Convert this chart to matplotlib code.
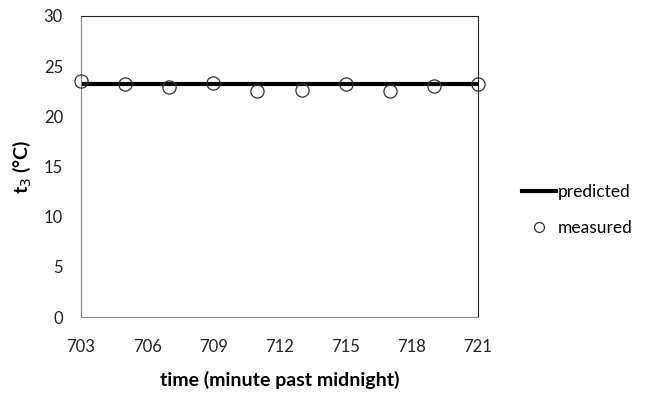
import matplotlib
matplotlib.use("Agg")
import matplotlib.pyplot as plt

plt.rcParams['font.family'] = ['Lato', 'DejaVu Sans']

time = [703, 705, 707, 709, 711, 713, 715, 717, 719, 721]
measured = [23.55, 23.2, 22.95, 23.3, 22.55, 22.65, 23.2, 22.55, 23.05, 23.2]
predicted = [23.2] * len(time)
xticks = [703, 706, 709, 712, 715, 718, 721]
yticks = [0, 5, 10, 15, 20, 25, 30]

fig = plt.figure(figsize=(6.47, 4.01), dpi=100)
ax = fig.add_axes([81/647, 1-317/401, (478-81)/647, (317-16)/401])

ax.plot(time, predicted, color='black', lw=3, label='predicted', zorder=2)
ax.plot(time, measured, ls='none', marker='o', ms=9.5, mfc='none', mec='#333333',
        mew=0.9, label='measured', zorder=3, clip_on=False)

ax.set_xlim(703, 721)
ax.set_ylim(0, 30)
ax.set_xticks(xticks)
ax.set_yticks(yticks)
ax.tick_params(axis='both', length=0, labelsize=12, colors='#222222')
ax.tick_params(axis='x', pad=16)
ax.tick_params(axis='y', pad=13)

for s in ['left', 'bottom']:
    ax.spines[s].set_color('#888888')
    ax.spines[s].set_linewidth(0.8)
for s in ['top', 'right']:
    ax.spines[s].set_color('#222222')
    ax.spines[s].set_linewidth(0.8)

ax.set_xlabel('time (minute past midnight)', fontsize=14, fontweight='bold', labelpad=11)
ax.set_ylabel('t$_3$ (°C)', fontsize=14, fontweight='bold', labelpad=8)

fig.legend(loc='upper left', bbox_to_anchor=(506/647, 1-168/401), frameon=False,
           fontsize=12.5, handlelength=2.0, handletextpad=0.1, labelspacing=1.2,
           markerscale=0.75)

fig.savefig('out.png', dpi=100)
